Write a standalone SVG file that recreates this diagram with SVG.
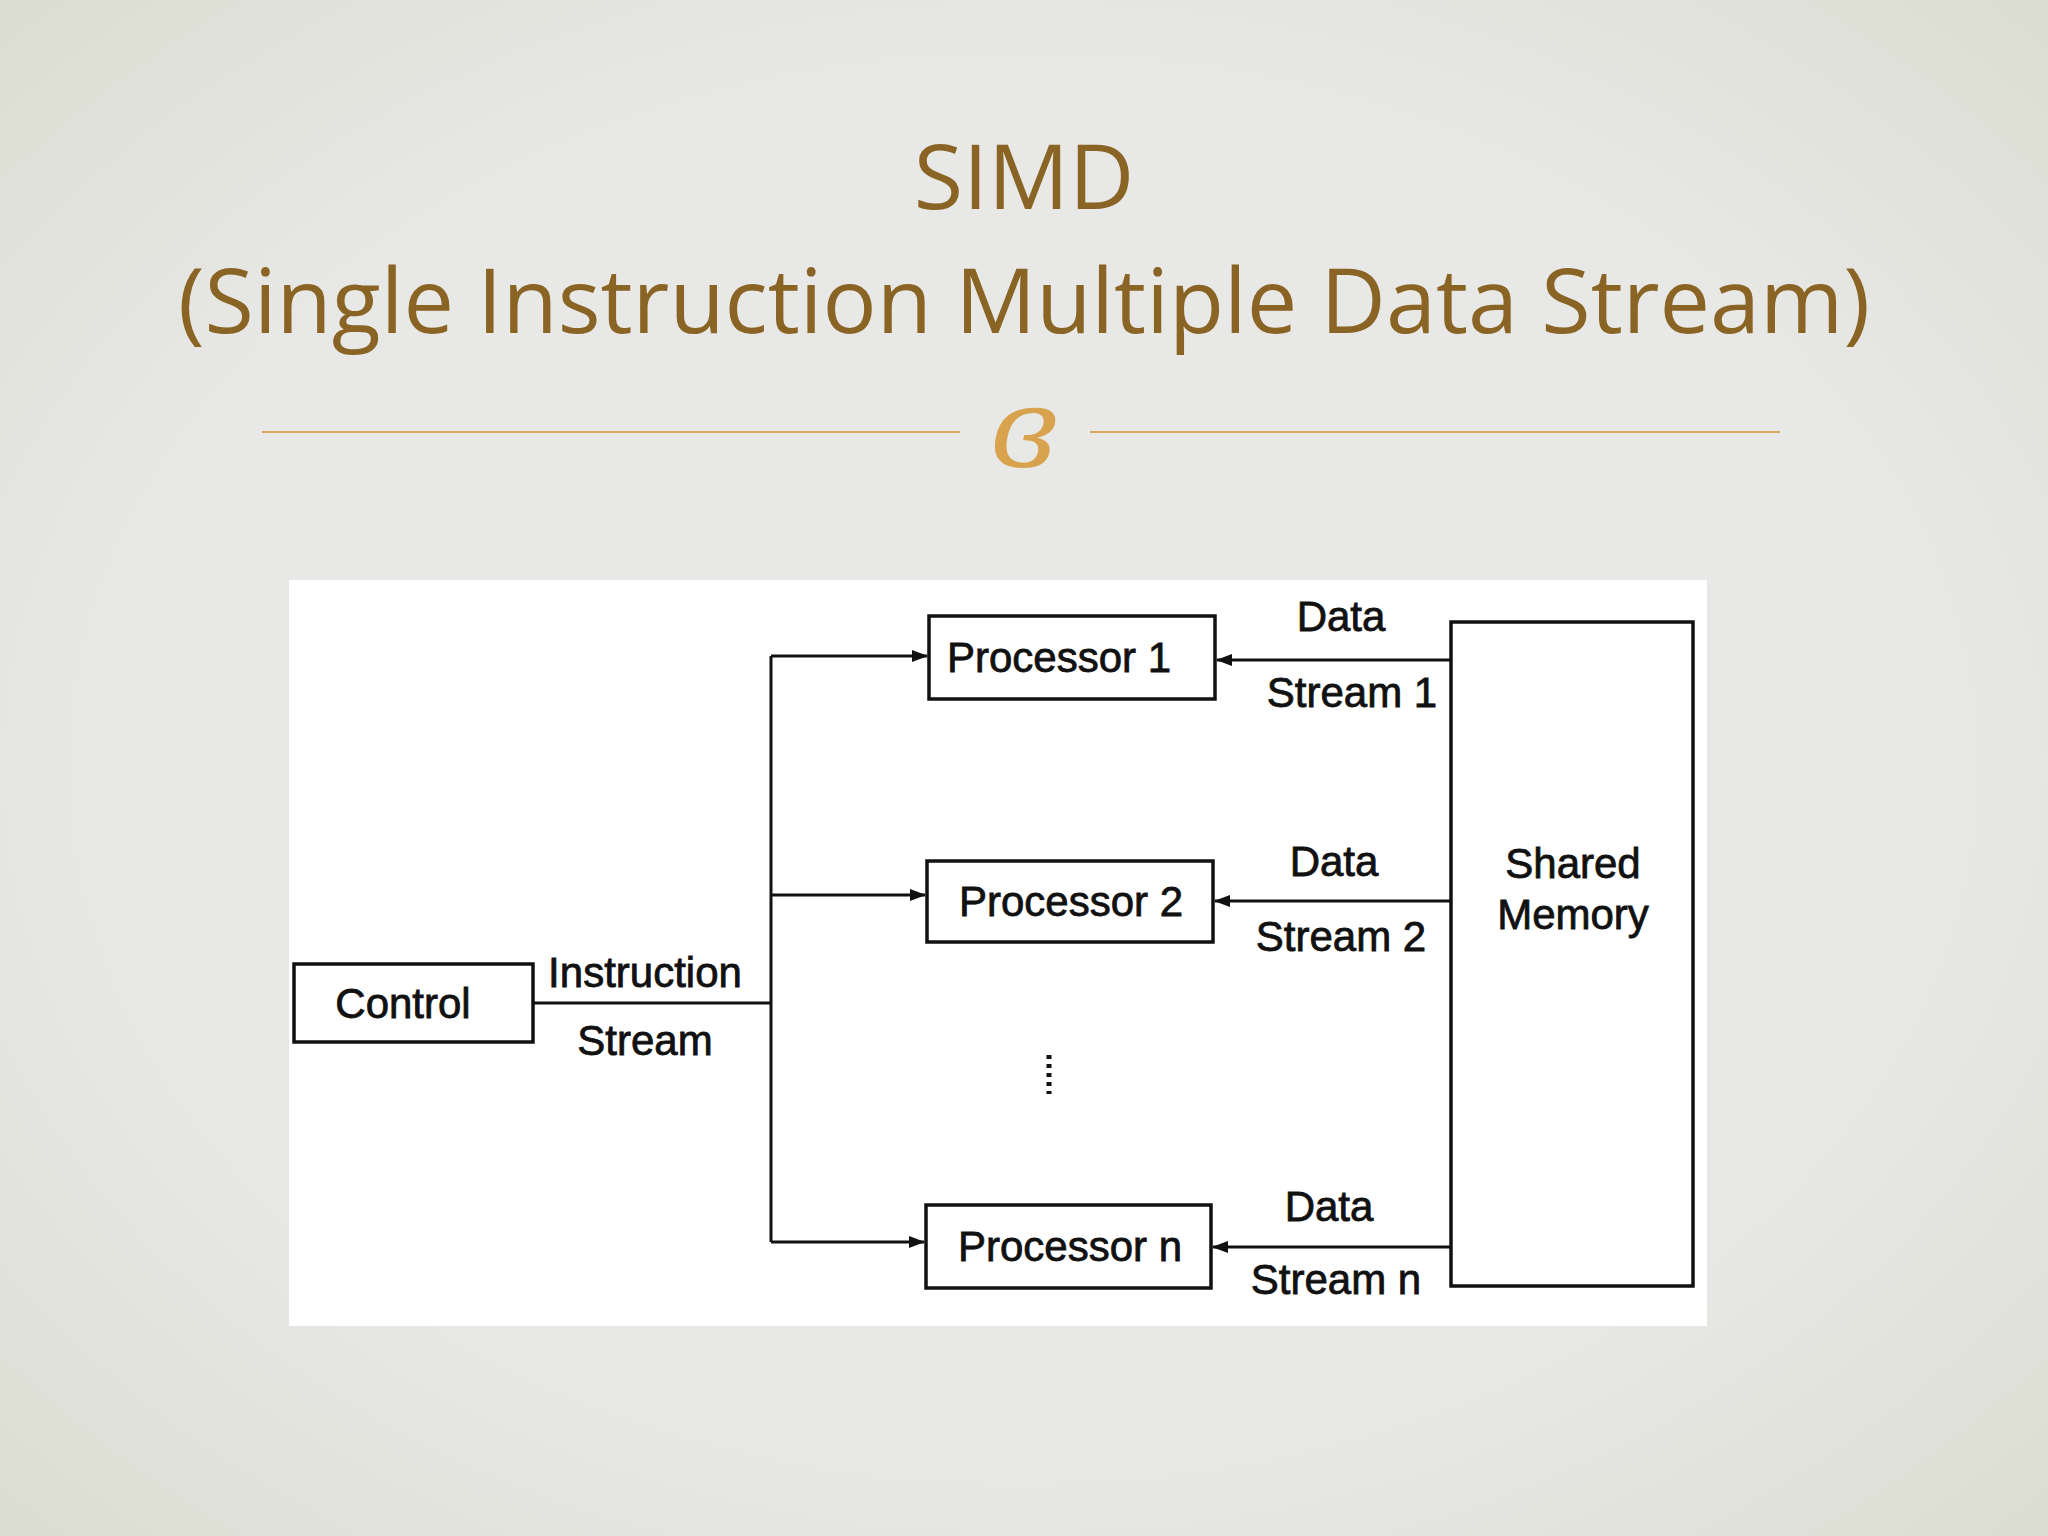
<svg xmlns="http://www.w3.org/2000/svg" width="2048" height="1536" viewBox="0 0 2048 1536">
<defs>
<radialGradient id="bg" cx="50%" cy="50%" r="75%">
<stop offset="0.6" stop-color="#e8e8e7"/><stop offset="1" stop-color="#d9dbcc"/>
</radialGradient>
<marker id="ah" markerWidth="16" markerHeight="12" refX="15" refY="6" orient="auto" markerUnits="userSpaceOnUse">
<path d="M0,0 L16,6 L0,12 z" fill="#111"/>
</marker>
</defs>
<style>
.t{font-family:"Open Sans","Liberation Sans",sans-serif;fill:#8a6424;font-size:90px;text-anchor:middle}
.b{fill:none;stroke:#111;stroke-width:3.5}
.l{fill:none;stroke:#111;stroke-width:3}
.d{font-family:"Liberation Sans",Arial,sans-serif;font-size:42px;fill:#111;text-anchor:middle;stroke:#111;stroke-width:0.8}
</style>
<rect width="2048" height="1536" fill="url(#bg)"/>
<text class="t" x="1024" y="209">SIMD</text>
<text class="t" x="1024" y="333">(Single Instruction Multiple Data Stream)</text>
<g id="divider">
<line x1="262" y1="432" x2="960" y2="432" stroke="#d9a95a" stroke-width="2"/>
<line x1="1090" y1="432" x2="1780" y2="432" stroke="#d9a95a" stroke-width="2"/>
<text x="1024" y="466" font-family="DejaVu Serif,serif" font-size="110" font-style="italic" fill="#d9a24c" text-anchor="middle">ɞ</text>
</g>
<rect x="289" y="580" width="1418" height="746" fill="#fff"/>
<g id="connectors">
<line class="l" x1="533" y1="1003" x2="771" y2="1003"/>
<line class="l" x1="771" y1="656" x2="771" y2="1242"/>
<line class="l" x1="771" y1="656" x2="927" y2="656" marker-end="url(#ah)"/>
<line class="l" x1="771" y1="895" x2="925" y2="895" marker-end="url(#ah)"/>
<line class="l" x1="771" y1="1242" x2="924" y2="1242" marker-end="url(#ah)"/>
<line class="l" x1="1451" y1="660" x2="1217" y2="660" marker-end="url(#ah)"/>
<line class="l" x1="1451" y1="901" x2="1215" y2="901" marker-end="url(#ah)"/>
<line class="l" x1="1451" y1="1247" x2="1213" y2="1247" marker-end="url(#ah)"/>
</g>
<g id="control"><rect class="b" x="294" y="964" width="239" height="78"/><text class="d" x="403" y="1018">Control</text></g>
<g id="p1"><rect class="b" x="929" y="616" width="286" height="83"/><text class="d" x="1059" y="672">Processor 1</text></g>
<g id="p2"><rect class="b" x="927" y="861" width="286" height="81"/><text class="d" x="1071" y="916">Processor 2</text></g>
<g id="pn"><rect class="b" x="926" y="1205" width="285" height="83"/><text class="d" x="1070" y="1261">Processor n</text></g>
<g id="mem"><rect class="b" x="1451" y="622" width="242" height="664"/><text class="d" x="1573" y="878">Shared</text><text class="d" x="1573" y="929">Memory</text></g>
<g id="labels">
<text class="d" x="645" y="987">Instruction</text><text class="d" x="645" y="1055">Stream</text>
<text class="d" x="1341" y="631">Data</text><text class="d" x="1352" y="707">Stream 1</text>
<text class="d" x="1334" y="876">Data</text><text class="d" x="1341" y="951">Stream 2</text>
<text class="d" x="1329" y="1221">Data</text><text class="d" x="1336" y="1294">Stream n</text>
<line x1="1049" y1="1055" x2="1049" y2="1094" stroke="#111" stroke-width="5" stroke-dasharray="4,5"/>
</g>
</svg>
